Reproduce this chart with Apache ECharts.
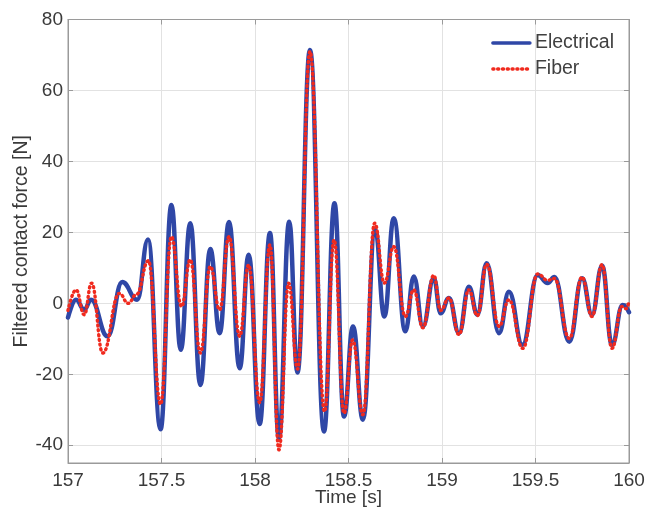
<!DOCTYPE html>
<html>
<head>
<meta charset="utf-8">
<title>Filtered contact force</title>
<script src="https://cdn.jsdelivr.net/npm/echarts@6/dist/echarts.min.js"></script>
<style>
  html, body { margin: 0; padding: 0; background: #fff; }
  #chart { width: 649px; height: 511px; }
</style>
</head>
<body>
<div id="chart"></div>
<script>
// Turning points of the filtered contact force, time in seconds, force in newtons.
const electricalTime = [
  157.000, 157.043, 157.087, 157.123, 157.212, 157.290, 157.370, 157.428, 157.495, 157.553,
  157.603, 157.654, 157.708, 157.761, 157.811, 157.861, 157.918, 157.966, 158.025, 158.080,
  158.128, 158.183, 158.227, 158.294, 158.369, 158.425, 158.476, 158.524, 158.577, 158.643,
  158.692, 158.742, 158.804, 158.849, 158.898, 158.956, 158.993, 159.037, 159.091, 159.144,
  159.189, 159.239, 159.305, 159.358, 159.430, 159.512, 159.565, 159.601, 159.681, 159.749,
  159.802, 159.856, 159.909, 159.966, 160.000
];
const electricalForce = [
  -4.0, 1.0, -1.8, 1.0, -9.3, 6.0, 1.0, 18.0, -35.5, 27.7,
  -13.1, 22.6, -23.0, 15.3, -8.4, 22.9, -18.3, 13.7, -34.0, 19.8,
  -38.0, 23.0, -19.5, 71.4, -36.1, 28.2, -31.9, -6.5, -32.8, 20.7,
  -3.7, 24.0, -7.9, 7.6, -6.5, 7.1, -2.8, 1.5, -8.4, 4.7,
  -3.2, 11.3, -8.4, 3.3, -11.7, 8.0, 5.7, 7.4, -10.8, 7.1,
  -3.2, 10.6, -11.7, -0.5, -2.5
];

const fiberTime = [
  157.000, 157.043, 157.087, 157.126, 157.186, 157.275, 157.322, 157.366, 157.430, 157.495,
  157.553, 157.607, 157.654, 157.708, 157.761, 157.811, 157.861, 157.918, 157.966, 158.025,
  158.080, 158.128, 158.180, 158.228, 158.294, 158.372, 158.423, 158.476, 158.522, 158.577,
  158.640, 158.692, 158.742, 158.804, 158.849, 158.898, 158.956, 158.993, 159.037, 159.091,
  159.144, 159.189, 159.239, 159.305, 159.358, 159.432, 159.512, 159.565, 159.601, 159.681,
  159.749, 159.802, 159.856, 159.909, 159.962, 159.985, 160.000
];
const fiberForce = [
  -2.0, 3.8, -3.2, 5.7, -14.0, 2.8, 0.0, 2.5, 12.0, -28.5,
  18.8, -0.9, 12.3, -14.0, 10.4, -1.8, 18.8, -9.3, 10.8, -28.0,
  16.5, -41.3, 5.7, -18.5, 71.0, -30.5, 17.9, -31.0, -10.3, -31.4,
  22.6, 5.7, 16.0, -3.7, 3.8, -6.9, 7.9, -2.0, 1.5, -8.8,
  3.8, -3.5, 11.0, -6.5, 1.0, -12.7, 8.3, 6.5, 7.0, -9.9,
  7.4, -3.7, 10.9, -12.7, -0.9, -1.5, 0.5
];

// Axis ranges and the tick values that get labels
const xTicks = { min: 157, max: 160, step: 0.5 };
const yRange = { min: -45, max: 80 };
const yTickValues = [-40, -20, 0, 20, 40, 60, 80];

function pairs(ts, vs) {
  return ts.map((t, i) => [t, vs[i]]);
}

const FONT = '"Liberation Sans", Arial, Helvetica, sans-serif';
const TEXT = '#3a3a3a';
const GRID_LINE = '#e2e2e2';
const FRAME = '#9a9a9a';

const chart = echarts.init(document.getElementById('chart'), null, { renderer: 'canvas' });

const xBase = {
  type: 'value',
  min: xTicks.min,
  max: xTicks.max,
  interval: xTicks.step,
  axisLine: { show: true, onZero: false, lineStyle: { color: FRAME, width: 1 } },
  axisTick: { show: true, inside: true, length: 5, lineStyle: { color: FRAME } },
};
const yBase = {
  type: 'value',
  min: yRange.min,
  max: yRange.max,
  axisLine: { show: true, onZero: false, lineStyle: { color: FRAME, width: 1 } },
  axisTick: { show: true, inside: true, length: 5, lineStyle: { color: FRAME }, customValues: yTickValues },
};

chart.setOption({
  animation: false,
  backgroundColor: '#ffffff',
  textStyle: { fontFamily: FONT },
  grid: {
    left: 68, right: 20, top: 19.5, bottom: 48,
    outerBoundsMode: 'none',
    containLabel: false,
    show: true, borderColor: FRAME, borderWidth: 1
  },
  legend: {
    orient: 'vertical',
    right: 30,
    top: 28,
    itemWidth: 37,
    itemHeight: 18,
    itemGap: 6,
    itemStyle: { opacity: 0 },
    lineStyle: { width: 3.5 },
    textStyle: { fontFamily: FONT, fontSize: 19.5, color: '#404040' },
    data: ['Electrical', 'Fiber']
  },
  xAxis: [
    Object.assign({}, xBase, {
      position: 'bottom',
      name: 'Time [s]',
      nameLocation: 'middle',
      nameGap: 25,
      nameMoveOverlap: false,
      nameTextStyle: { fontFamily: FONT, fontSize: 19, color: TEXT },
      axisLabel: { show: true, fontFamily: FONT, fontSize: 19, color: TEXT, margin: 8 },
      splitLine: { show: true, lineStyle: { color: GRID_LINE, width: 1 } }
    }),
    Object.assign({}, xBase, {
      position: 'top',
      axisLabel: { show: false },
      splitLine: { show: false }
    })
  ],
  yAxis: [
    Object.assign({}, yBase, {
      position: 'left',
      name: 'Filtered contact force [N]',
      nameLocation: 'middle',
      nameGap: 36,
      nameMoveOverlap: false,
      nameRotate: 90,
      nameTextStyle: { fontFamily: FONT, fontSize: 19.5, color: TEXT },
      axisLabel: {
        show: true, fontFamily: FONT, fontSize: 19, color: TEXT, margin: 5,
        customValues: yTickValues
      },
      splitLine: { show: true, lineStyle: { color: GRID_LINE, width: 1 } }
    }),
    Object.assign({}, yBase, {
      position: 'right',
      axisLabel: { show: false, customValues: yTickValues },
      splitLine: { show: false }
    })
  ],
  series: [
    {
      name: 'Electrical',
      type: 'line',
      xAxisIndex: 0,
      yAxisIndex: 0,
      data: pairs(electricalTime, electricalForce),
      smooth: 0.45,
      smoothMonotone: 'x',
      symbol: 'none',
      color: '#2f47a6',
      lineStyle: { color: '#2f47a6', width: 4.5, cap: 'round', join: 'round' },
      z: 2
    },
    {
      name: 'Fiber',
      type: 'line',
      xAxisIndex: 0,
      yAxisIndex: 0,
      data: pairs(fiberTime, fiberForce),
      smooth: 0.45,
      smoothMonotone: 'x',
      symbol: 'none',
      color: '#f02a1e',
      lineStyle: { color: '#f02a1e', width: 3.4, type: [1, 3.8], cap: 'round', join: 'round' },
      z: 3
    }
  ]
});
</script>
</body>
</html>
